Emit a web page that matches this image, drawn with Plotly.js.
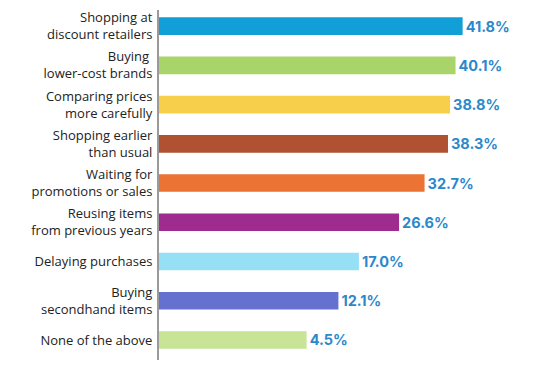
<!DOCTYPE html>
<html>
<head>
<meta charset="utf-8">
<script src="https://cdn.plot.ly/plotly-3.0.1.min.js"></script>
<style>
  html, body { margin: 0; padding: 0; background: #fff; }
  #chart { width: 550px; height: 371px; }
</style>
</head>
<body>
<div id="chart"></div>
<script>
// Holiday shopping behaviours, share of respondents (%)
const categories = [
  "Shopping at<br>discount retailers",
  "Buying <br>lower-cost brands",
  "Comparing prices<br>more carefully",
  "Shopping earlier<br>than usual",
  "Waiting for<br>promotions or sales",
  "Reusing items<br>from previous years",
  "Delaying purchases",
  "Buying<br>secondhand items",
  "None of the above"
];
const shares = [41.8, 40.1, 38.8, 38.3, 32.7, 26.6, 17.0, 12.1, 4.5];
const valueLabels = ["41.8%", "40.1%", "38.8%", "38.3%", "32.7%", "26.6%", "17.0%", "12.1%", "4.5%"];
const barColors = ["#119fd8", "#a9d46a", "#f8cf4a", "#b05232", "#eb7333",
                   "#9e2b8e", "#96e0f5", "#6570cf", "#c8e497"];

// Value axis starts below zero; bars grow from the left edge of the axis
const axisStart = -30.8;
const axisEnd = 60.3;

const trace = {
  type: "bar",
  orientation: "h",
  y: categories,
  x: shares.map(v => v - axisStart),
  base: axisStart,
  width: 0.45,
  marker: { color: barColors, line: { width: 0 } },
  text: valueLabels,
  textposition: "outside",
  cliponaxis: false,
  textfont: { family: "Inter, 'Open Sans', sans-serif", size: 14.5, color: "#2b88cb", weight: 700 },
  hoverinfo: "skip"
};

const layout = {
  width: 550,
  height: 371,
  margin: { l: 159, r: 10, t: 10, b: 11 },
  paper_bgcolor: "#ffffff",
  plot_bgcolor: "#ffffff",
  showlegend: false,
  xaxis: {
    range: [axisStart, axisEnd],
    visible: false,
    fixedrange: true
  },
  yaxis: {
    type: "category",
    categoryorder: "array",
    categoryarray: categories,
    range: [8.51, -0.41],
    showline: true,
    linecolor: "#9a9a9a",
    linewidth: 2,
    showgrid: false,
    zeroline: false,
    ticks: "",
    ticklabelstandoff: 2,
    tickfont: { family: "'Open Sans', sans-serif", size: 13, color: "#222222" },
    fixedrange: true
  }
};

Plotly.newPlot("chart", [trace], layout, { displayModeBar: false, staticPlot: true });
</script>
</body>
</html>
